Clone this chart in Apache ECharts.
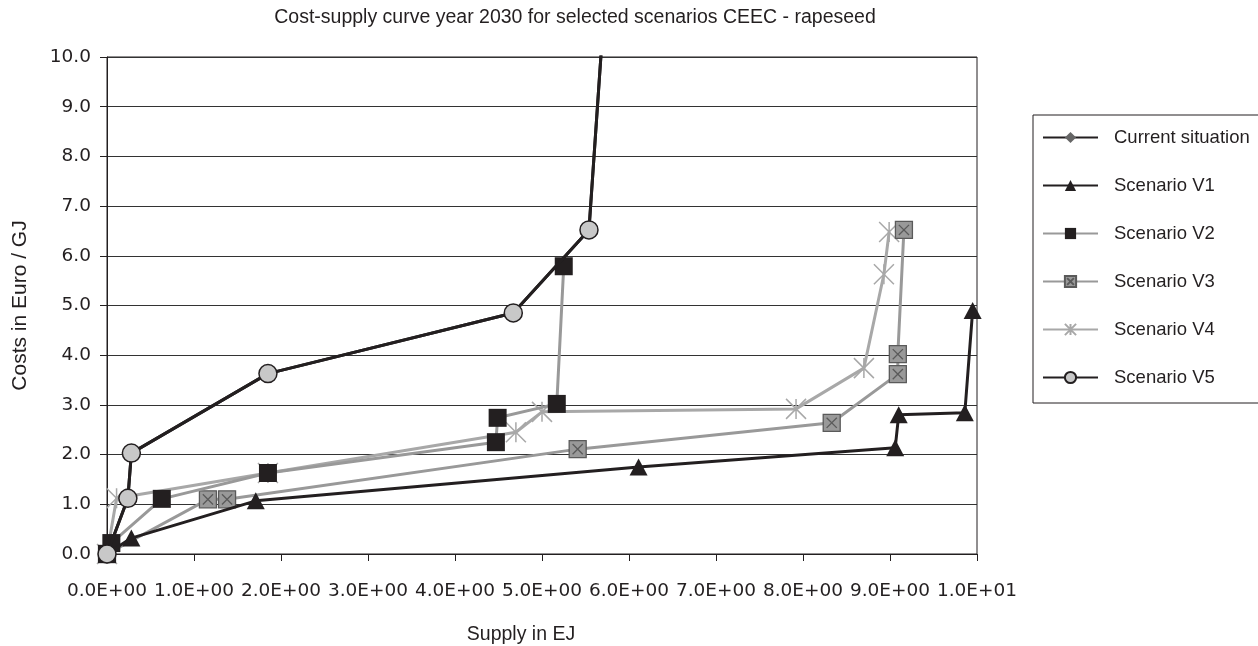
<!DOCTYPE html>
<html>
<head>
<meta charset="utf-8">
<script src="https://cdn.jsdelivr.net/npm/echarts@6/dist/echarts.min.js"></script>
<style>
html,body{margin:0;padding:0;background:#fff;}
#chart{width:1258px;height:646px;}
</style>
</head>
<body>
<div id="chart"></div>
<script>
// ---- data (supply in EJ, cost in Euro/GJ) ----
const seriesNames = ['Current situation', 'Scenario V1', 'Scenario V2', 'Scenario V3', 'Scenario V4', 'Scenario V5'];
const currentSituation = [[0, 0], [0.24, 1.12], [0.28, 2.03], [1.85, 3.63], [4.67, 4.85], [5.54, 6.52], [5.70, 10.6]];
const scenarioV1 = [[0, 0], [0.28, 0.32], [1.71, 1.07], [6.11, 1.75], [9.06, 2.14], [9.10, 2.80], [9.86, 2.84], [9.95, 4.90]];
const scenarioV2 = [[0, 0], [0.05, 0.22], [0.63, 1.11], [1.85, 1.63], [4.47, 2.25], [4.49, 2.74], [5.17, 3.02], [5.25, 5.79]];
const scenarioV3 = [[0, 0], [1.16, 1.10], [1.38, 1.10], [5.41, 2.11], [8.33, 2.64], [9.09, 3.62], [9.09, 4.02], [9.16, 6.52]];
const scenarioV4 = [[0, 0], [0.11, 1.12], [1.85, 1.63], [4.70, 2.45], [5.00, 2.86], [7.92, 2.92], [8.70, 3.74], [8.93, 5.63], [8.99, 6.48]];
const scenarioV5 = [[0, 0], [0.24, 1.12], [0.28, 2.03], [1.85, 3.63], [4.67, 4.85], [5.54, 6.52], [5.70, 10.6]];
const xTicks = { min: 0, max: 10, interval: 1 };
const yTicks = { min: 0, max: 10, interval: 1 };

const BLACK = '#231f20', GREY = '#999999', LGREY = '#a8a8a8';

function sci(v) {
  if (v === 0) return '0.0E+00';
  let e = Math.floor(Math.log10(Math.abs(v)) + 1e-9);
  let m = v / Math.pow(10, e);
  let s = m.toFixed(1);
  if (s === '10.0') { s = '1.0'; e += 1; }
  return s + 'E' + (e < 0 ? '-' : '+') + String(Math.abs(e)).padStart(2, '0');
}
function pts(arr, yMax) {
  return arr.map(p => p[1] > yMax ? { value: p, symbol: 'none' } : p);
}

const chart = echarts.init(document.getElementById('chart'), null, { renderer: 'canvas' });
const common = { type: 'line', animation: false, clip: true, emphasis: { disabled: true }, silent: true };

chart.setOption({
  animation: false,
  backgroundColor: '#ffffff',
  title: {
    text: 'Cost-supply curve year 2030 for selected scenarios CEEC - rapeseed',
    left: 570, textAlign: 'center', top: 3,
    textStyle: { fontFamily: 'Liberation Sans', fontSize: 19.5, fontWeight: 'normal', color: BLACK }
  },
  legend: {
    orient: 'vertical', left: 1033, top: 115,
    itemWidth: 55, itemHeight: 14, itemGap: 29,
    padding: [13, 40, 16, 9],
    borderColor: BLACK, borderWidth: 1,
    textStyle: { fontFamily: 'Liberation Sans', fontSize: 18.5, color: BLACK, padding: [0, 0, 0, 11] },
    data: seriesNames
  },
  grid: {
    left: 107, right: 281, top: 57, bottom: 92,
    containLabel: false, outerBoundsMode: 'none',
    show: true, borderColor: BLACK, borderWidth: 1
  },
  xAxis: {
    type: 'value', min: xTicks.min, max: xTicks.max, interval: xTicks.interval,
    name: 'Supply in EJ', nameLocation: 'middle', nameGap: 71,
    nameTextStyle: { fontFamily: 'Liberation Sans', fontSize: 19.5, color: BLACK, padding: [0, 42, 0, 0] },
    axisLine: { show: true, lineStyle: { color: BLACK, width: 1 } },
    axisTick: { show: true, length: 7, lineStyle: { color: BLACK } },
    splitLine: { show: false },
    axisLabel: { formatter: sci, fontFamily: 'DejaVu Sans', fontSize: 18.5, color: BLACK, margin: 28 }
  },
  yAxis: {
    type: 'value', min: yTicks.min, max: yTicks.max, interval: yTicks.interval,
    name: 'Costs in Euro / GJ', nameLocation: 'middle', nameGap: 76,
    nameTextStyle: { fontFamily: 'Liberation Sans', fontSize: 21, color: BLACK },
    axisLine: { show: true, lineStyle: { color: BLACK, width: 1 } },
    axisTick: { show: true, length: 7, lineStyle: { color: BLACK } },
    splitLine: { show: true, lineStyle: { color: '#333333', width: 1 } },
    axisLabel: { formatter: v => v.toFixed(1), fontFamily: 'DejaVu Sans', fontSize: 18.5, color: BLACK, margin: 16 }
  },
  series: [
    Object.assign({}, common, {
      name: seriesNames[0], data: pts(currentSituation, yTicks.max), z: 5,
      symbol: 'diamond', symbolSize: 11,
      lineStyle: { color: BLACK, width: 3 },
      itemStyle: { color: '#666666', borderColor: '#666666', borderWidth: 0 }
    }),
    Object.assign({}, common, {
      name: seriesNames[1], data: pts(scenarioV1, yTicks.max), z: 5,
      symbol: 'triangle', symbolSize: [18, 17],
      lineStyle: { color: BLACK, width: 3 },
      itemStyle: { color: BLACK, borderWidth: 0 }
    }),
    Object.assign({}, common, {
      name: seriesNames[2], data: pts(scenarioV2, yTicks.max), z: 4,
      symbol: 'rect', symbolSize: 18,
      lineStyle: { color: GREY, width: 3 },
      itemStyle: { color: BLACK, borderWidth: 0 }
    }),
    Object.assign({}, common, {
      name: seriesNames[3], data: pts(scenarioV3, yTicks.max), z: 3,
      symbol: 'path://M0,0L20,0L20,20L0,20Z M4,4L16,16 M16,4L4,16', symbolSize: 17,
      lineStyle: { color: GREY, width: 3 },
      itemStyle: { color: GREY, borderColor: '#5a5a5a', borderWidth: 1.3 }
    }),
    Object.assign({}, common, {
      name: seriesNames[4], data: pts(scenarioV4, yTicks.max), z: 2,
      symbol: 'path://M0,0L20,20M20,0L0,20M10,0L10,20', symbolSize: 20,
      lineStyle: { color: LGREY, width: 3 },
      itemStyle: { color: 'none', borderColor: LGREY, borderWidth: 1.5 }
    }),
    Object.assign({}, common, {
      name: seriesNames[5], data: pts(scenarioV5, yTicks.max), z: 6,
      symbol: 'circle', symbolSize: 18,
      lineStyle: { color: BLACK, width: 3 },
      itemStyle: { color: '#c8c8c8', borderColor: BLACK, borderWidth: 1.5 }
    })
  ]
});
</script>
</body>
</html>
